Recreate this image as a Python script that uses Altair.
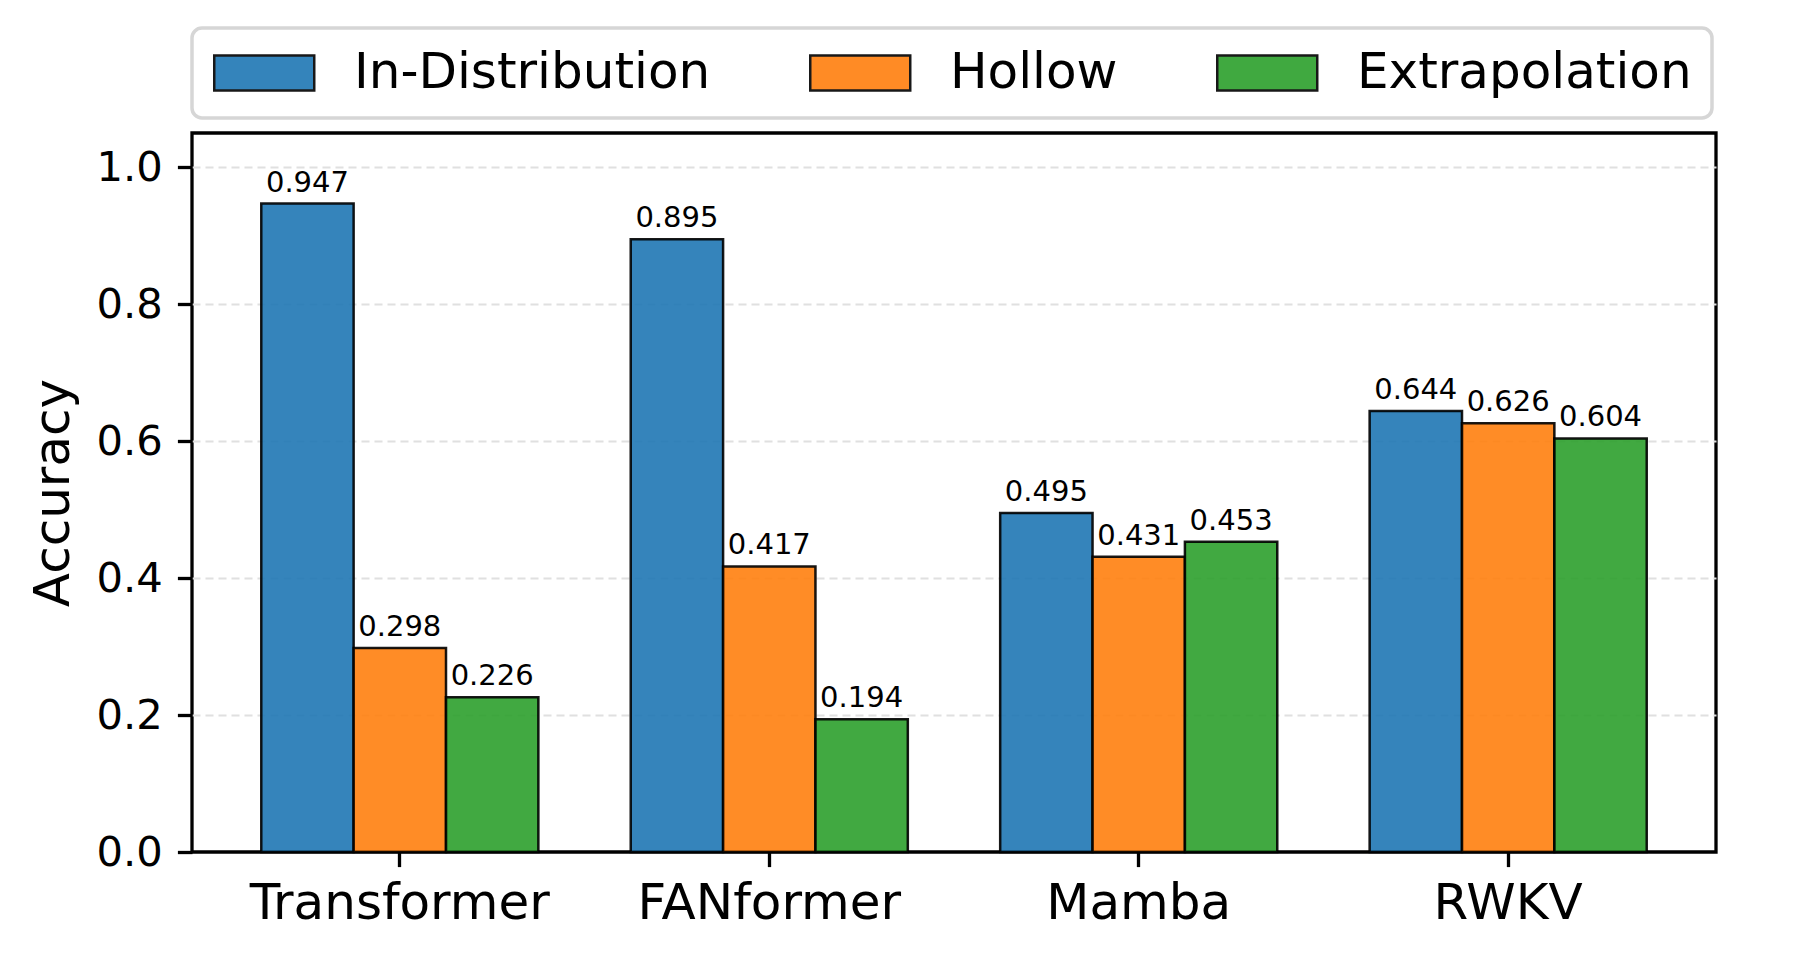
import altair as alt
import pandas as pd

models = ["Transformer", "FANformer", "Mamba", "RWKV"]
splits = ["In-Distribution", "Hollow", "Extrapolation"]
in_dist = [0.947, 0.895, 0.495, 0.644]
hollow = [0.298, 0.417, 0.431, 0.626]
extrap = [0.226, 0.194, 0.453, 0.604]
colors = ["#1f77b4", "#ff7f0e", "#2ca02c"]
y_ticks = [0.0, 0.2, 0.4, 0.6, 0.8, 1.0]

rows = []
for split, vals in zip(splits, [in_dist, hollow, extrap]):
    for m, v in zip(models, vals):
        rows.append({"Model": m, "Split": split, "Accuracy": v})
df = pd.DataFrame(rows)

FONT = "DejaVu Sans"
W, H = 1524, 719

base = alt.Chart(df).encode(
    x=alt.X(
        "Model:N",
        sort=models,
        scale=alt.Scale(paddingInner=0, paddingOuter=0.0625),
        axis=alt.Axis(
            title=None, labelAngle=0, labelFontSize=50, labelFont=FONT,
            labelColor="black", labelPadding=12, labelLimit=0,
            tickSize=14.6, tickWidth=3.3,
            tickColor="black", domain=False, grid=False,
        ),
    ),
    xOffset=alt.XOffset(
        "Split:N", sort=splits,
        scale=alt.Scale(domain=splits, paddingInner=0, paddingOuter=0.5),
    ),
    y=alt.Y(
        "Accuracy:Q",
        scale=alt.Scale(domain=[0, 1.05], nice=False, zero=True),
        axis=alt.Axis(
            title="Accuracy", values=y_ticks, format=".1f",
            labelFontSize=41.7, labelFont=FONT, labelColor="black",
            labelPadding=15, tickSize=14.6, tickWidth=3.3, tickColor="black",
            domain=False, grid=True, gridColor="#e0e0e0", gridWidth=2,
            gridDash=[8, 5],
            gridOpacity={"condition": {"test": "datum.value === 0", "value": 0}, "value": 1},
            titleFontSize=50, titleFont=FONT,
            titleFontWeight="normal", titleColor="black",
            titleAngle=270, titleBaseline="alphabetic", titleAlign="center",
            titleX=-123.5, titleY=H / 2,
        ),
    ),
)

bars = base.mark_bar(
    fillOpacity=0.9, stroke="black", strokeOpacity=0.9, strokeWidth=2.5
).encode(
    color=alt.Color(
        "Split:N",
        sort=splits,
        scale=alt.Scale(domain=splits, range=colors),
        legend=alt.Legend(
            title=None, orient="none", legendX=0, legendY=-105,
            direction="horizontal", columns=3,
            symbolType="M-1.3,-1L4.414,-1L4.414,1L-1.3,1Z", symbolSize=1225,
            symbolStrokeColor="black", symbolStrokeWidth=2.5, symbolOpacity=0.9,
            labelFontSize=50, labelFont=FONT, labelColor="black", labelLimit=0,
            labelOffset=92, columnPadding=94, padding=20,
            strokeColor="#d6d6d6", cornerRadius=10,
            fillColor="white",
        ),
    )
)

labels = base.mark_text(
    baseline="alphabetic", align="center", dy=-12, fontSize=29, font=FONT,
    color="black",
).encode(text=alt.Text("Accuracy:Q", format=".3f"))

chart = (
    alt.layer(bars, labels)
    .properties(
        width=W, height=H,
        autosize=alt.AutoSizeParams(type="none"),
        padding={"left": 184, "top": 125, "right": 76, "bottom": 100},
        background="white",
    )
    .configure_view(stroke="black", strokeWidth=3.3)
    .configure_legend(strokeWidth=3.5)
)

chart.save("out.html", embed_options={"renderer": "svg", "actions": False})
